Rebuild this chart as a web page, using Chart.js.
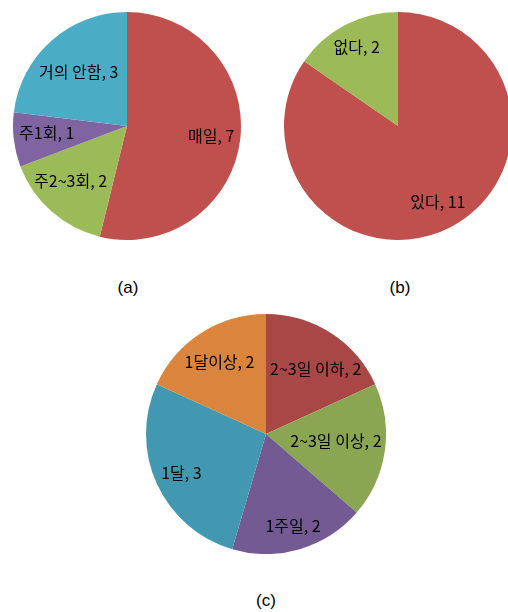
<!DOCTYPE html>
<html>
<head>
<meta charset="utf-8">
<script src="https://cdn.jsdelivr.net/npm/chart.js@4.4.1/dist/chart.umd.min.js"></script>
<style>
  html, body { margin: 0; padding: 0; background: #fff; overflow: hidden; }
  body { width: 508px; height: 612px; position: relative; }
  .box { position: absolute; }
  .cap { position: absolute; font-family: "Liberation Sans", Arial, sans-serif; font-size: 17px; color: #000; transform: translateX(-50%); }
</style>
</head>
<body>
<div class="box" style="left:13px; top:12px; width:228px; height:228px;"><canvas id="chartA"></canvas></div>
<div class="box" style="left:284px; top:12px; width:228px; height:228px;"><canvas id="chartB"></canvas></div>
<div class="box" style="left:146px; top:314px; width:240px; height:240px;"><canvas id="chartC"></canvas></div>
<div class="cap" style="left:128px; top:278px;">(a)</div>
<div class="cap" style="left:400px; top:278px;">(b)</div>
<div class="cap" style="left:266px; top:591px;">(c)</div>
<script>
// (a) 빈도
const labelsA = ['매일', '주2~3회', '주1회', '거의 안함'];
const valuesA = [7, 2, 1, 3];
const colorsA = ['#C0504D', '#9BBB59', '#8064A2', '#4BACC6'];

// (b) 유무
const labelsB = ['있다', '없다'];
const valuesB = [11, 2];
const colorsB = ['#C0504D', '#9BBB59'];

// (c) 기간
const labelsC = ['2~3일 이하', '2~3일 이상', '1주일', '1달', '1달이상'];
const valuesC = [2, 2, 2, 3, 2];
const colorsC = ['#A84745', '#8AA652', '#735A92', '#4398B1', '#DA843D'];

// "label, value" inside each slice, pushed out along the mid angle
// as far as the text box still fits inside the pie (like Excel best fit),
// then nudged off the slice's straight edges
const sliceLabels = {
    id: 'sliceLabels',
    afterDatasetsDraw(chart) {
        const ctx = chart.ctx;
        const meta = chart.getDatasetMeta(0);
        const data = chart.data.datasets[0].data;
        ctx.save();
        ctx.font = '16px "Noto Sans CJK KR", "Noto Sans", sans-serif';
        ctx.fillStyle = '#000';
        ctx.textAlign = 'center';
        ctx.textBaseline = 'middle';
        meta.data.forEach((arc, i) => {
            const p = arc.getProps(['x', 'y', 'startAngle', 'endAngle', 'outerRadius'], true);
            const text = chart.data.labels[i] + ', ' + data[i];
            const hw = ctx.measureText(text).width / 2;
            const hh = 9;
            const mid = (p.startAngle + p.endAngle) / 2;
            const cx = Math.cos(mid), cy = Math.sin(mid);
            const limit = p.outerRadius * 0.96;
            let d = p.outerRadius * 0.2;
            while (d < p.outerRadius) {
                const nd = d + 1;
                const fx = Math.abs(cx * nd) + hw, fy = Math.abs(cy * nd) + hh;
                if (Math.sqrt(fx * fx + fy * fy) > limit) break;
                d = nd;
            }
            let lx = cx * d, ly = cy * d;

            // keep the box on the inner side of both radial edges
            if (p.endAngle - p.startAngle < Math.PI) {
                const edges = [
                    { u: [Math.cos(p.startAngle), Math.sin(p.startAngle)], n: [-Math.sin(p.startAngle), Math.cos(p.startAngle)] },
                    { u: [Math.cos(p.endAngle), Math.sin(p.endAngle)], n: [Math.sin(p.endAngle), -Math.cos(p.endAngle)] }
                ];
                const margin = 4;
                edges.forEach(e => {
                    let worst = Infinity;
                    [[-hw, -hh], [hw, -hh], [-hw, hh], [hw, hh]].forEach(([ox, oy]) => {
                        const px = lx + ox, py = ly + oy;
                        if (px * e.u[0] + py * e.u[1] <= 0) return;
                        worst = Math.min(worst, px * e.n[0] + py * e.n[1]);
                    });
                    if (worst < margin) {
                        lx += e.n[0] * (margin - worst);
                        ly += e.n[1] * (margin - worst);
                    }
                });
            }
            ctx.fillText(text, p.x + lx, p.y + ly);
        });
        ctx.restore();
    }
};

function makePie(id, labels, values, colors) {
    new Chart(document.getElementById(id), {
        type: 'pie',
        data: {
            labels: labels,
            datasets: [{
                data: values,
                backgroundColor: colors,
                borderWidth: 0
            }]
        },
        options: {
            responsive: true,
            maintainAspectRatio: false,
            animation: false,
            layout: { padding: 0 },
            plugins: {
                legend: { display: false },
                tooltip: { enabled: false }
            }
        },
        plugins: [sliceLabels]
    });
}

makePie('chartA', labelsA, valuesA, colorsA);
makePie('chartB', labelsB, valuesB, colorsB);
makePie('chartC', labelsC, valuesC, colorsC);
</script>
</body>
</html>
